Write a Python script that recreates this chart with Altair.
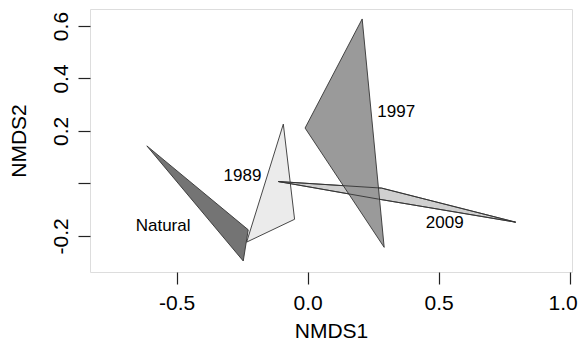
import altair as alt
import pandas as pd

# Hull vertices (NMDS1, NMDS2) per group
groups = ["Natural", "1989", "2009", "1997"]
hull_x = {
    "Natural": [-0.614, -0.227, -0.246],
    "1989": [-0.093, -0.050, -0.233],
    "1997": [0.208, -0.010, 0.292],
    "2009": [-0.112, 0.282, 0.794, 0.270],
}
hull_y = {
    "Natural": [0.143, -0.177, -0.296],
    "1989": [0.226, -0.137, -0.224],
    "1997": [0.627, 0.211, -0.244],
    "2009": [0.007, -0.018, -0.148, -0.060],
}
fills = {"Natural": "#747474", "1989": "#ebebeb", "1997": "#9a9a9a", "2009": "#d0d0d0"}

# Group labels
label_text = ["Natural", "1989", "1997", "2009"]
label_x = [-0.552, -0.249, 0.338, 0.523]
label_y = [-0.162, 0.029, 0.272, -0.151]

x_ticks = [-0.5, 0.0, 0.5, 1.0]
y_ticks = [-0.2, 0.0, 0.2, 0.4, 0.6]

rows = []
for g in groups:
    for i, (a, b) in enumerate(zip(hull_x[g], hull_y[g])):
        rows.append({"group": g, "idx": i, "x": a, "y": b})
df = pd.DataFrame(rows)
lab = pd.DataFrame({"text": label_text, "x": label_x, "y": label_y})

FONT = "Liberation Sans"
xs = alt.Scale(domain=[-0.831, 1.009], nice=False, zero=False)
ys = alt.Scale(domain=[-0.338, 0.665], nice=False, zero=False)

neg = "(datum.value < -1e-9 ? '-' : '') + format(abs(datum.value), '.1f')"
xaxis = alt.Axis(values=x_ticks, labelExpr=neg, title="NMDS1", grid=False, domain=False,
                 tickSize=12, tickColor="#222", tickWidth=1.2, labelFont=FONT, labelFontSize=21,
                 labelColor="black", labelBaseline="top", labelPadding=8, labelFlush=False,
                 labelOffset={"condition": {"test": "datum.value > 0.9", "value": -7}, "value": 0},
                 labelBound=False,
                 labelOverlap=False, titleFont=FONT, titleFontSize=21, titleFontWeight="normal",
                 titleColor="black", titleBaseline="alphabetic", titleY=65)
yaxis = alt.Axis(values=y_ticks,
                 labelExpr="abs(datum.value) < 1e-9 ? '' : " + neg,
                 title="NMDS2", grid=False, domain=False, tickSize=12, tickColor="#222", tickWidth=1.2,
                 labelFont=FONT, labelFontSize=21, labelColor="black", labelAngle=-90,
                 labelAlign="center", labelBaseline="alphabetic", labelPadding=11,
                 labelOverlap=False, labelFlush=False, titleFont=FONT, titleFontSize=21,
                 titleFontWeight="normal", titleColor="black", titleBaseline="middle", titleX=-71)

layers = []
for g in groups:
    layers.append(
        alt.Chart(df).transform_filter(alt.datum.group == g)
        .mark_line(interpolate="linear-closed", fill=fills[g], stroke="#333", strokeWidth=0.9)
        .encode(x=alt.X("x:Q", scale=xs, axis=xaxis), y=alt.Y("y:Q", scale=ys, axis=yaxis),
                order="idx:O")
    )
# outline of 2009 visible through 1997
layers.append(
    alt.Chart(df).transform_filter(alt.datum.group == "2009")
    .mark_line(interpolate="linear-closed", stroke="#333", strokeWidth=0.9)
    .encode(x=alt.X("x:Q", scale=xs), y=alt.Y("y:Q", scale=ys), order="idx:O")
)
layers.append(
    alt.Chart(lab).mark_text(font=FONT, fontSize=17, color="black", baseline="middle", align="center")
    .encode(x=alt.X("x:Q", scale=xs), y=alt.Y("y:Q", scale=ys), text="text:N")
)

chart = alt.layer(*layers).properties(
    width=482, height=263,
    autosize=alt.AutoSizeParams(type="none"),
    padding={"left": 82, "top": 1, "right": 8, "bottom": 75},
).configure_view(stroke="#222", strokeWidth=1.5).configure(background="white")

chart.save("out.html", embed_options={"renderer": "svg", "actions": False})
